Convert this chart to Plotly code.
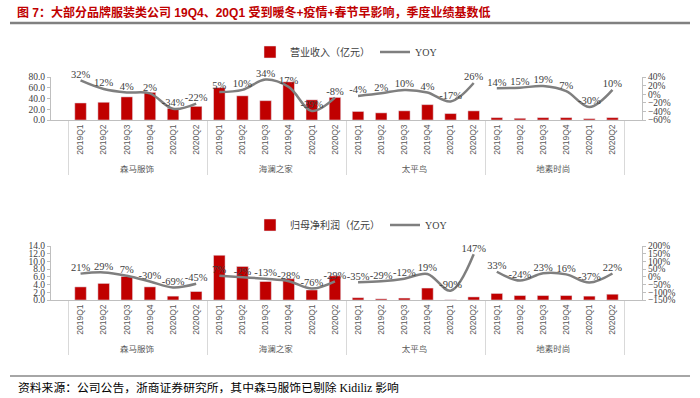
import plotly.graph_objects as go

W, H = 700, 398

companies = ["森马服饰", "海澜之家", "太平鸟", "地素时尚"]
quarters = ["2019Q1", "2019Q2", "2019Q3", "2019Q4", "2020Q1", "2020Q2"]

# 营业收入（亿元）
rev_semir = [31.7, 33.0, 43.0, 51.4, 21.6, 25.4]
rev_hla = [60.3, 45.0, 36.0, 71.0, 37.5, 42.0]
rev_pb = [15.9, 13.3, 17.1, 28.6, 12.0, 17.0]
rev_ds = [4.4, 3.2, 4.4, 4.4, 2.5, 4.4]
# 营业收入 YOY (%)
rev_yoy_semir = [32, 12, 4, 2, -34, -22]
rev_yoy_hla = [5, 10, 34, 17, -39, -8]
rev_yoy_pb = [-4, 2, 10, 4, -17, 26]
rev_yoy_ds = [14, 15, 19, 7, -30, 10]

# 归母净利润（亿元）
np_semir = [3.4, 4.3, 6.1, 3.4, 1.0, 2.2]
np_hla = [11.6, 8.7, 4.8, 5.5, 2.6, 6.25]
np_pb = [0.6, 0.3, 0.5, 3.1, 0.05, 0.8]
np_ds = [1.7, 1.15, 1.15, 1.15, 1.0, 1.5]
# 归母净利润 YOY (%)
np_yoy_semir = [21, 29, 7, -30, -69, -45]
np_yoy_hla = [7, -2, -13, -28, -76, -29]
np_yoy_pb = [-35, -29, -12, 19, -90, 147]
np_yoy_ds = [33, -24, 23, 16, -37, 22]

rev_all = [rev_semir, rev_hla, rev_pb, rev_ds]
rev_yoy_all = [rev_yoy_semir, rev_yoy_hla, rev_yoy_pb, rev_yoy_ds]
np_all = [np_semir, np_hla, np_pb, np_ds]
np_yoy_all = [np_yoy_semir, np_yoy_hla, np_yoy_pb, np_yoy_ds]

RED = "#C00000"
GRAY_LINE = "#7F7F7F"
SERIF = "Liberation Serif, Noto Sans CJK SC"
CJK = "Noto Sans CJK SC"
TXT = "#404040"

def px_x(v):
    return v / W

def px_y(v):
    return 1 - v / H

fig = go.Figure()

def add_panel(bars, yoys, xaxis, yaxis, yaxis_r, bar_name, legend):
    xo = [[], []]
    vals = []
    for c, b in zip(companies, bars):
        xo[0] += [c] * len(quarters)
        xo[1] += quarters
        vals += b
    fig.add_trace(go.Bar(
        x=xo, y=vals, name=bar_name, marker_color=RED,
        xaxis=xaxis, yaxis=yaxis, legend=legend,
    ))
    for i, (c, yy) in enumerate(zip(companies, yoys)):
        fig.add_trace(go.Scatter(
            x=[[c] * len(quarters), quarters], y=yy,
            mode="lines+text", name="YOY",
            line=dict(color=GRAY_LINE, width=2.5, shape="spline", smoothing=1.0),
            text=[f"{v}%" for v in yy], textposition="top center",
            textfont=dict(family=SERIF, size=10.5, color=TXT),
            cliponaxis=False,
            showlegend=(i == 0), legendgroup="yoy" + legend, legend=legend,
            xaxis=xaxis, yaxis=yaxis_r,
        ))

add_panel(rev_all, rev_yoy_all, "x", "y", "y2", "营业收入（亿元）", "legend")
add_panel(np_all, np_yoy_all, "x2", "y3", "y4", "归母净利润（亿元）", "legend2")

xdom = [px_x(51), px_x(642)]
xcommon = dict(
    type="multicategory", domain=xdom, tickangle=-90, automargin=False,
    tickfont=dict(family="Liberation Sans, " + CJK, size=8.5, color="#595959"),
    showline=True, linecolor="#BFBFBF", linewidth=1,
    showdividers=True, dividercolor="#D9D9D9", dividerwidth=1,
    ticks="", showgrid=False,
)
yleft = dict(
    showline=True, linecolor="#BFBFBF", linewidth=1, ticks="outside", automargin=False,
    ticklen=3, tickcolor="#BFBFBF", showgrid=False, zeroline=False,
    tickformat=".1f", tickfont=dict(family=SERIF, size=9.5, color=TXT),
)
yright = dict(
    showline=True, linecolor="#BFBFBF", linewidth=1, ticks="outside", automargin=False,
    ticklen=3, tickcolor="#BFBFBF", showgrid=False, zeroline=False,
    ticksuffix="%", side="right", tickfont=dict(family=SERIF, size=9.5, color=TXT),
)

fig.update_layout(
    width=W, height=H,
    margin=dict(l=0, r=0, t=0, b=0),
    paper_bgcolor="white", plot_bgcolor="white",
    bargap=0.5,
    xaxis=dict(xcommon, anchor="y"),
    yaxis=dict(yleft, domain=[px_y(120), px_y(77)], range=[0, 80], dtick=20, anchor="x"),
    yaxis2=dict(yright, range=[-60, 40], dtick=20, overlaying="y", anchor="x"),
    xaxis2=dict(xcommon, anchor="y3"),
    yaxis3=dict(yleft, domain=[px_y(300), px_y(246)], range=[0, 14], dtick=2, anchor="x2"),
    yaxis4=dict(yright, range=[-150, 200], dtick=50, overlaying="y3", anchor="x2"),
    legend=dict(orientation="h", x=px_x(250), y=px_y(52), xanchor="left", yanchor="middle",
                font=dict(family=SERIF, size=10, color=TXT), bgcolor="rgba(0,0,0,0)",
                itemwidth=30, tracegroupgap=0),
    legend2=dict(orientation="h", x=px_x(250), y=px_y(225), xanchor="left", yanchor="middle",
                 font=dict(family=SERIF, size=10, color=TXT), bgcolor="rgba(0,0,0,0)",
                 itemwidth=30, tracegroupgap=0),
    showlegend=True,
)

fig.add_annotation(
    text="<b>图 7：大部分品牌服装类公司 19Q4、20Q1 受到暖冬+疫情+春节早影响，季度业绩基数低</b>",
    x=px_x(15), y=px_y(12), xref="paper", yref="paper", xanchor="left", yanchor="middle",
    showarrow=False, font=dict(family="Liberation Sans, " + CJK, size=12, color=RED),
)
fig.add_annotation(
    text="资料来源：公司公告，浙商证券研究所，其中森马服饰已剔除 Kidiliz 影响",
    x=px_x(16), y=px_y(388), xref="paper", yref="paper", xanchor="left", yanchor="middle",
    showarrow=False, font=dict(family=SERIF, size=11.8, color="#000000"),
)
fig.add_shape(type="line", xref="paper", yref="paper",
              x0=px_x(10), x1=px_x(690), y0=px_y(23), y1=px_y(23),
              line=dict(color="#808080", width=2.5))
fig.add_shape(type="line", xref="paper", yref="paper",
              x0=px_x(10), x1=px_x(690), y0=px_y(376), y1=px_y(376),
              line=dict(color="#A6A6A6", width=2))

fig.write_html(
    "out.html",
    config={"displayModeBar": False},
    post_script="document.body.style.margin='0';document.body.style.padding='0';",
)
